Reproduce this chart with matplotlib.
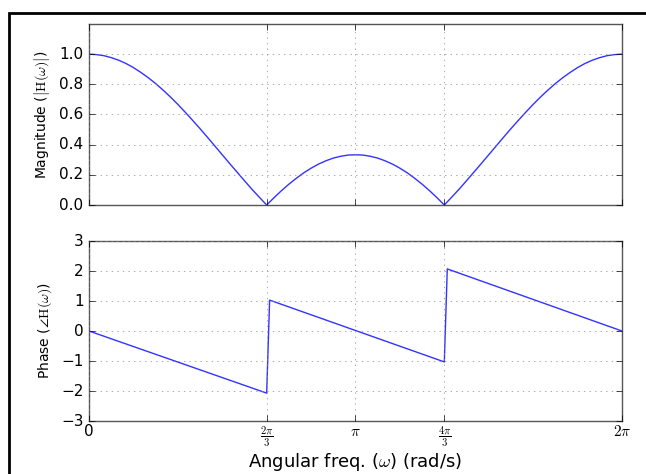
"""
Magnitude and phase response of a 3-point moving average filter.
"""
import numpy as np
import matplotlib
matplotlib.use('Agg')
import matplotlib.pyplot as plt
from matplotlib.patches import Rectangle

# sample frequencies (degrees) and magnitude values
mag_deg = list(range(0, 361, 5))
mag_half = [1.000, 0.997, 0.990, 0.977, 0.960, 0.938, 0.911, 0.879, 0.844,
            0.805, 0.762, 0.716, 0.667, 0.615, 0.561, 0.506, 0.449, 0.391,
            0.333, 0.275, 0.218, 0.161, 0.105, 0.052, 0.000, 0.049, 0.095,
            0.138, 0.177, 0.213, 0.244, 0.271, 0.293, 0.311, 0.323, 0.331,
            0.333]
# the response is mirrored about pi
mag_vals = mag_half + mag_half[-2::-1]

# phase: sawtooth corners
phase_deg = [0, 120, 122, 240, 242, 360]
phase_vals = [0.0, -2.07, 1.03, -1.03, 2.07, 0.0]

xtick_vals = [0, 2 * np.pi / 3, np.pi, 4 * np.pi / 3, 2 * np.pi]
xtick_labels = ['0', r'$\frac{2\pi}{3}$', r'$\pi$', r'$\frac{4\pi}{3}$', r'$2\pi$']

plt.style.use('classic')
plt.rcParams['figure.facecolor'] = 'white'
plt.rcParams['savefig.facecolor'] = 'white'
plt.rcParams['mathtext.fontset'] = 'cm'

fig = plt.figure(figsize=(6.46, 4.74), dpi=100)
ax1 = fig.add_axes([0.1378, 0.5675, 0.825, 0.3819])
ax2 = fig.add_axes([0.1378, 0.1118, 0.825, 0.3797])

ax1.plot(np.deg2rad(mag_deg), mag_vals, color='#3333ff', lw=1)
ax1.set_xlim(0, 2 * np.pi)
ax1.set_ylim(0, 1.2)
ax1.set_yticks([0.0, 0.2, 0.4, 0.6, 0.8, 1.0])
ax1.set_xticks(xtick_vals)
ax1.set_xticklabels([])
ax1.set_ylabel(r'Magnitude ($\left|\mathrm{H}(\omega)\right|$)', fontsize=10)
ax1.grid(True, color='#888888')

ax2.plot(np.deg2rad(phase_deg), phase_vals, color='#3333ff', lw=1)
ax2.set_xlim(0, 2 * np.pi)
ax2.set_ylim(-3, 3)
ax2.set_yticks([-3, -2, -1, 0, 1, 2, 3])
ax2.set_xticks(xtick_vals)
ax2.set_xticklabels(xtick_labels)
ax2.set_ylabel(r'Phase ($\angle \mathrm{H}(\omega)$)', fontsize=10)
ax2.set_xlabel(r'Angular freq. ($\omega$) (rad/s)', fontsize=13, labelpad=2)
ax2.grid(True, color='#888888')

for ax in (ax1, ax2):
    ax.tick_params(labelsize=11)
    ax.tick_params(axis='x', pad=2)
    for s in ax.spines.values():
        s.set_edgecolor('#555555')

# black frame around the screenshot
fig.patches.append(Rectangle((9 / 646, -0.1), 1.2, 1 - 12.8 / 474 + 0.1,
                             transform=fig.transFigure, fill=False,
                             edgecolor='black', lw=2, zorder=10))

plt.savefig('out.png', dpi=100)
plt.close()
